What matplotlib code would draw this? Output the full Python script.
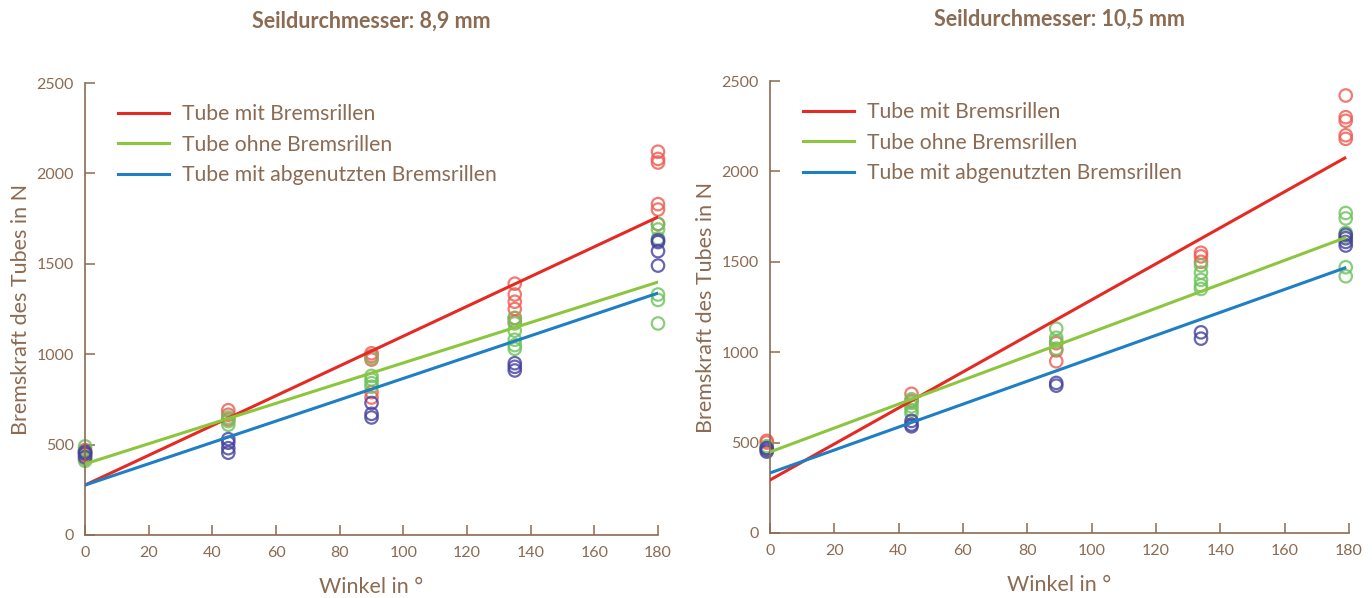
import matplotlib
matplotlib.use("Agg")
import matplotlib.pyplot as plt
import numpy as np

plt.rcParams['font.family'] = ['Lato', 'DejaVu Sans']

# ---------------- data ----------------
titles = ["Seildurchmesser: 8,9 mm", "Seildurchmesser: 10,5 mm"]
series_names = ["Tube mit Bremsrillen", "Tube ohne Bremsrillen", "Tube mit abgenutzten Bremsrillen"]
x_ticks = [0, 20, 40, 60, 80, 100, 120, 140, 160, 180]
y_ticks = [0, 500, 1000, 1500, 2000, 2500]

# left chart (8,9 mm)
angles_l = [0, 45, 90, 135, 180]
red_l = [[470, 450, 440],
         [690, 665, 640],
         [1005, 990, 970, 790, 760],
         [1390, 1330, 1290, 1250, 1200, 1180],
         [2120, 2080, 2060, 1830, 1800, 1720]]
green_l = [[490, 460, 420, 410],
           [650, 630, 610],
           [980, 880, 860, 840, 820],
           [1200, 1170, 1130, 1080, 1050, 1030],
           [1720, 1690, 1640, 1330, 1300, 1170]]
blue_l = [[460, 450, 430],
          [530, 510, 480, 455],
          [730, 670, 650],
          [950, 930, 910],
          [1630, 1620, 1570, 1490]]
fit_start_l = [276, 393, 276]
fit_end_l = [1759, 1399, 1338]

# right chart (10,5 mm)
angles_r = [-1, 44, 89, 134, 179]
red_r = [[510, 500],
         [770, 730],
         [1050, 1010, 950],
         [1550, 1530, 1500],
         [2420, 2300, 2280, 2200, 2180]]
green_r = [[480, 470],
           [740, 720, 700, 680, 660],
           [1130, 1080, 1060, 1020],
           [1480, 1440, 1400, 1370, 1350],
           [1770, 1740, 1660, 1640, 1470, 1420]]
blue_r = [[470, 460, 450],
          [620, 600, 590],
          [830, 815],
          [1110, 1075],
          [1650, 1630, 1610, 1590]]
fit_start_r = [293, 448, 332]
fit_end_r = [2074, 1632, 1466]
fit_x_r = [0, 178.7]
fit_x_l = [0, 180]

# ---------------- style ----------------
brown = '#8b6b52'
line_colors = ['#e52a24', '#8cc63f', '#1f7fc4']
pt_colors = ['#ee5a50', '#6cc25a', '#44409e']

fig = plt.figure(figsize=(13.72, 5.98), dpi=100)
ax_l = fig.add_axes([0.062, 0.1054, 0.4176, 0.7558])
ax_r = fig.add_axes([0.5612, 0.1087, 0.4220, 0.7558])


def draw(ax, title, angles, groups, fit_x, starts, ends):
    for si, grp in enumerate(groups):
        for a, vals in zip(angles, grp):
            ax.scatter([a] * len(vals), vals, s=80, facecolors='none',
                       edgecolors=pt_colors[si], linewidths=1.6, alpha=0.8, zorder=2)
    for si in range(3):
        ax.plot(fit_x, [starts[si], ends[si]], color=line_colors[si], lw=2.2,
                label=series_names[si], zorder=3)
    ax.set_xlim(0, 180)
    ax.set_ylim(0, 2500)
    ax.set_xticks(x_ticks)
    ax.set_yticks(y_ticks)
    for s in ['top', 'right']:
        ax.spines[s].set_visible(False)
    for s in ['left', 'bottom']:
        ax.spines[s].set_color(brown)
        ax.spines[s].set_linewidth(1.2)
    ax.tick_params(axis='both', direction='in', length=7, width=1.1, color=brown,
                   labelcolor=brown, labelsize=11.5, pad=8)
    ax.set_xlabel("Winkel in °", color=brown, fontsize=15.5, labelpad=12)
    ax.set_ylabel("Bremskraft des Tubes in N", color=brown, fontsize=15.5, labelpad=4)
    ax.set_title(title, color=brown, fontsize=15.5, fontweight='bold', pad=40)
    ax.margins(0)
    ax.legend(loc='upper left', bbox_to_anchor=(0.025, 0.995), frameon=False,
              fontsize=15.2, handlelength=2.4, handletextpad=0.6,
              labelspacing=0.5, labelcolor=brown)


draw(ax_l, titles[0], angles_l, [red_l, green_l, blue_l], fit_x_l, fit_start_l, fit_end_l)
draw(ax_r, titles[1], angles_r, [red_r, green_r, blue_r], fit_x_r, fit_start_r, fit_end_r)

for ax in (ax_l, ax_r):
    for coll in ax.collections:
        coll.set_clip_on(False)

fig.savefig("out.png", dpi=100, facecolor='white')
